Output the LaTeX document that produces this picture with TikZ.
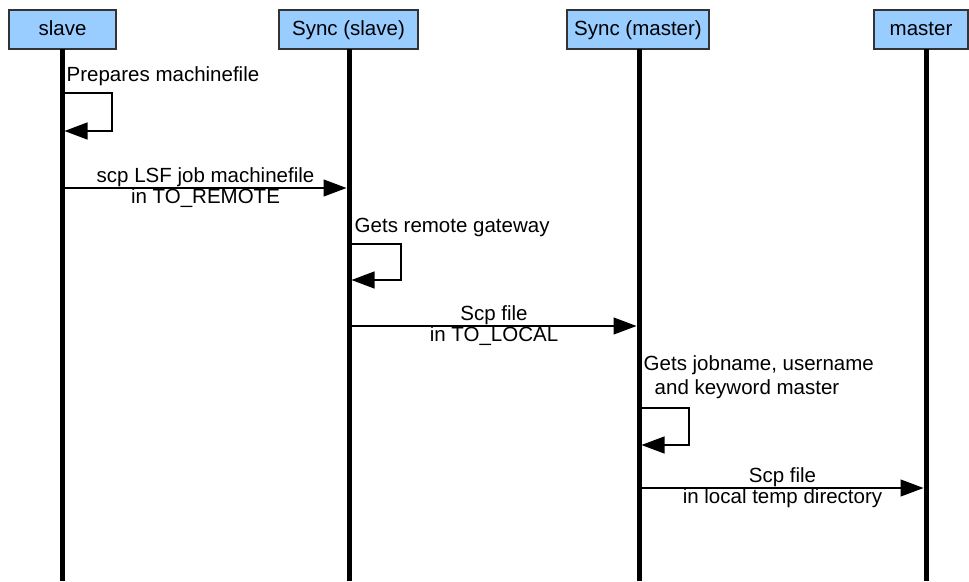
\documentclass[tikz,border=0pt]{standalone}
\usepackage{fontspec}
\setmainfont{Liberation Sans}
\usetikzlibrary{arrows.meta}

\tikzset{
  head/.style={draw=black!80, line width=1.2pt, fill={rgb,255:red,153;green,204;blue,255},
    minimum height=39pt, inner xsep=4pt, text height=15pt, text depth=4pt,
    font=\fontsize{20.5}{23}\selectfont},
  lifeline/.style={line width=5pt},
  msg/.style={line width=1.2pt, -{Triangle[length=23pt,width=17pt]}},
  lbl/.style={font=\fontsize{20.5}{24}\selectfont, inner sep=0.5pt},
}

\begin{document}
\begin{tikzpicture}[x=1pt,y=-1pt]

\useasboundingbox (0,0) rectangle (969,581);

% lifeline positions
\def\xa{62}
\def\xb{349}
\def\xc{639}
\def\xd{926}

% headers
\node[head, minimum width=107pt] (slave) at (62.5,29.5) {slave};
\node[head, minimum width=139pt] (syncslave) at (348.5,29.5) {Sync (slave)};
\node[head, minimum width=142pt] (syncmaster) at (638,29.5) {Sync (master)};
\node[head, minimum width=94pt] (master) at (921,29.5) {master};

% lifelines
\draw[lifeline] (\xa,49) -- (\xa,581);
\draw[lifeline] (\xb,49) -- (\xb,581);
\draw[lifeline] (\xc,49) -- (\xc,581);
\draw[lifeline] (\xd,49) -- (\xd,581);

% points on the lifelines
\coordinate (p1) at (\xa+2.5,93);
\coordinate (p1e) at (\xa+2.5,131);
\coordinate (m1a) at (\xa+2.5,188);
\coordinate (m1b) at (\xb-2.5,188);
\coordinate (p2) at (\xb+2.5,244);
\coordinate (p2e) at (\xb+2.5,280);
\coordinate (m2a) at (\xb+2.5,326);
\coordinate (m2b) at (\xc-2.5,326);
\coordinate (p3) at (\xc+2.5,408);
\coordinate (p3e) at (\xc+2.5,445);
\coordinate (m3a) at (\xc+2.5,488);
\coordinate (m3b) at (\xd-2.5,488);

% slave prepares machinefile
\draw[msg] (p1) -| (112,112) |- (p1e);
\node[lbl, anchor=west] (t1) at (66,76) {Prepares machinefile};

% slave -> sync (slave)
\draw[msg] (m1a) -- node[lbl, above] {scp LSF job machinefile}
  node[lbl, below] {in TO\_REMOTE} (m1b);

% sync (slave) gets gateway
\draw[msg] (p2) -| (401,262) |- (p2e);
\node[lbl, anchor=west] (t2) at (354,227) {Gets remote gateway};

% sync (slave) -> sync (master)
\draw[msg] (m2a) -- node[lbl, above] {Scp file}
  node[lbl, below] {in TO\_LOCAL} (m2b);

% sync (master) gets jobname
\draw[msg] (p3) -| (689,426) |- (p3e);
\node[lbl, anchor=west, align=left] (t3) at (643,377)
  {Gets jobname, username\\\hspace*{11pt}and keyword master};

% sync (master) -> master
\draw[msg] (m3a) -- node[lbl, above] {Scp file}
  node[lbl, below] {in local temp directory} (m3b);

\end{tikzpicture}
\end{document}
